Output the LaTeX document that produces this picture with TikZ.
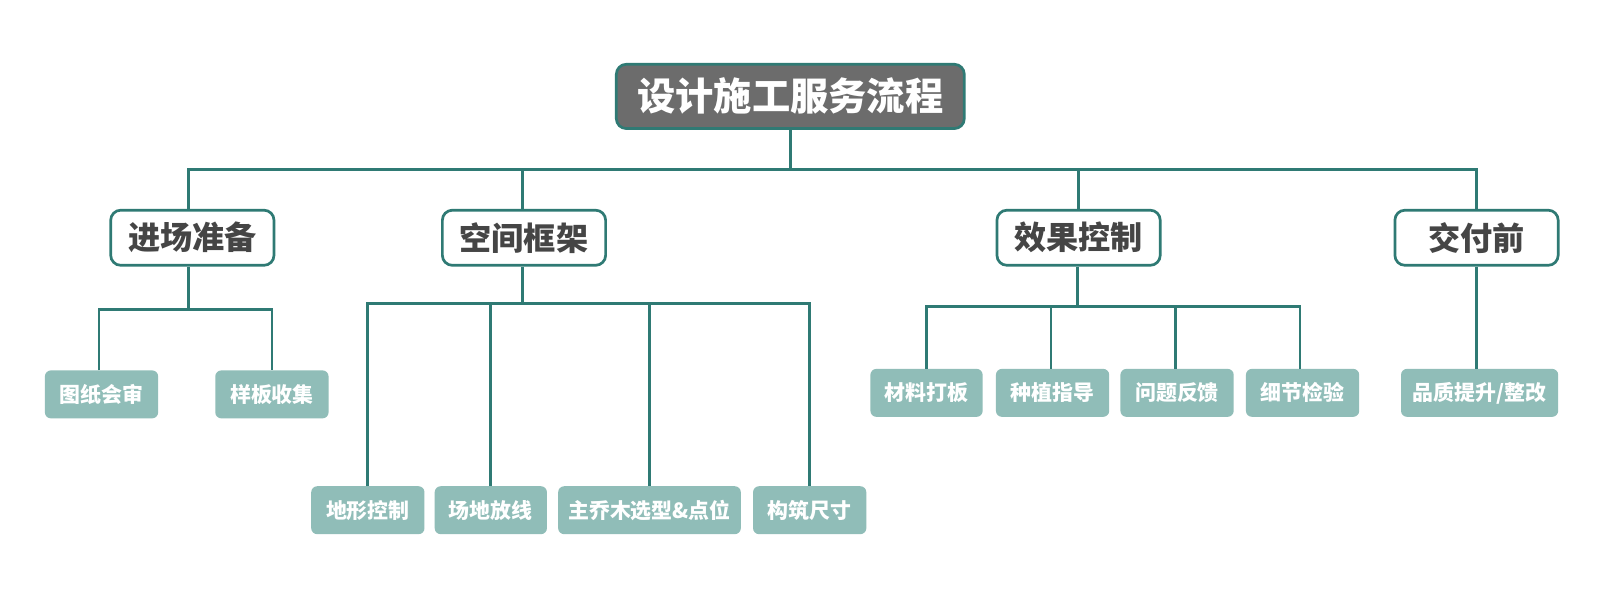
\documentclass[tikz,border=0pt]{standalone}
\usepackage{fontspec}
\newfontfamily\cjk{Noto Sans CJK SC}
\definecolor{teal1}{HTML}{2F7A74}
\definecolor{topfill}{HTML}{6C6C6C}
\definecolor{leaffill}{HTML}{90BDB8}
\definecolor{txtgray}{HTML}{454545}
\begin{document}
\begin{tikzpicture}[x=1pt,y=-1pt,scale=1.0204,every node/.append style={transform shape},
  conn/.style={draw=teal1,line width=2.9pt},
  topbox/.style={draw=teal1,line width=2.7pt,fill=topfill,rounded corners=10pt,minimum width=341pt,minimum height=63pt,text=white,font=\cjk\bfseries\fontsize{37.5}{41}\selectfont,inner sep=0pt},
  midbox/.style={draw=teal1,line width=2.7pt,fill=white,rounded corners=10pt,minimum width=160pt,minimum height=54pt,text=txtgray,font=\cjk\bfseries\fontsize{31.5}{35}\selectfont,inner sep=0pt},
  leafbox/.style={fill=leaffill,rounded corners=6pt,minimum height=47pt,text=white,font=\cjk\bfseries\fontsize{20.5}{24}\selectfont,inner sep=0pt}]
\path[use as bounding box,fill=white] (0,0) rectangle (1568,600.7);
% nodes
\node[topbox] (top) at (774.5,94.5) {设计施工服务流程};
\node[midbox] (m1) at (188.5,233) {进场准备};
\node[midbox] (m2) at (513.5,233) {空间框架};
\node[midbox] (m3) at (1057,233) {效果控制};
\node[midbox] (m4) at (1447,233) {交付前};
\node[leafbox,minimum width=111pt] (a1) at (99.5,386.5) {图纸会审};
\node[leafbox,minimum width=111pt] (a2) at (266.5,386.5) {样板收集};
\node[leafbox,minimum width=111pt] (b1) at (360.5,500) {地形控制};
\node[leafbox,minimum width=110pt] (b2) at (481,500) {场地放线};
\node[leafbox,minimum width=179pt] (b3) at (636.5,500) {主乔木选型\&点位};
\node[leafbox,minimum width=111pt] (b4) at (793.5,500) {构筑尺寸};
\node[leafbox,minimum width=110pt] (c1) at (908,385) {材料打板};
\node[leafbox,minimum width=111pt] (c2) at (1031.5,385) {种植指导};
\node[leafbox,minimum width=111pt] (c3) at (1153.5,385) {问题反馈};
\node[leafbox,minimum width=111pt] (c4) at (1276.5,385) {细节检验};
\node[leafbox,minimum width=154pt] (d1) at (1450,385) {品质提升/整改};
% bus coordinates
\coordinate (bus0) at (774.5,166);
\coordinate (bus1) at (185,303);
\coordinate (bus2) at (512,297);
\coordinate (bus3) at (1056,300);
% connectors
\draw[conn] (top.south) -- (bus0);
\draw[conn] (m1.north -| 185,0) |- (bus0) -| (m4.north);
\draw[conn] (bus0 -| 512,0) -- (m2.north -| 512,0);
\draw[conn] (bus0 -| m3.north) -- (m3.north);
\draw[conn] (m1.south -| bus1) -- (bus1);
\draw[conn] (a1.north -| 97,0) |- (bus1) -| (a2.north);
\draw[conn] (m2.south -| bus2) -- (bus2);
\draw[conn] (b1.north) |- (bus2) -| (b4.north);
\draw[conn] (bus2 -| b2.north) -- (b2.north);
\draw[conn] (bus2 -| b3.north) -- (b3.north);
\draw[conn] (m3.south -| bus3) -- (bus3);
\draw[conn] (c1.north) |- (bus3) -| (c4.north -| 1274,0);
\draw[conn] (bus3 -| 1030,0) -- (c2.north -| 1030,0);
\draw[conn] (bus3 -| 1152,0) -- (c3.north -| 1152,0);
\draw[conn] (m4.south) -- (m4.south |- d1.north);
\end{tikzpicture}
\end{document}
